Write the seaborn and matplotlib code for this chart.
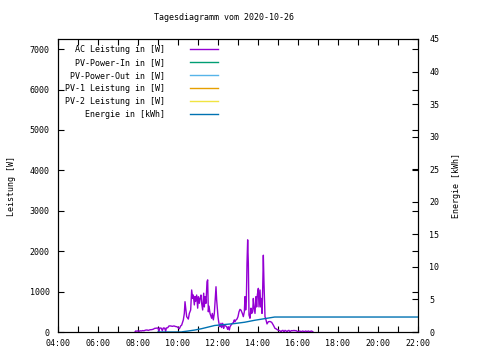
import matplotlib
matplotlib.use("Agg")
import matplotlib.pyplot as plt
from matplotlib.lines import Line2D
import seaborn as sns

# ---- data ----
ac_times = ["07:51","07:53","07:57","08:00","08:03","08:06","08:10","08:14","08:18","08:22",
            "08:27","08:31","08:36","08:42","08:46","08:50","08:54","09:00","09:03","09:05",
            "09:10","09:13","09:16","09:20","09:23","09:25","09:29","09:33","09:38","09:43",
            "09:48","09:53","09:57","10:01","10:04","10:08","10:11","10:16","10:19","10:21",
            "10:24","10:26","10:31","10:34","10:38","10:41","10:44","10:46","10:49","10:51",
            "10:53","10:56","10:59","11:01","11:04","11:06","11:09","11:11","11:14","11:17",
            "11:19","11:21","11:24","11:27","11:29","11:31","11:33","11:36","11:41","11:43",
            "11:46","11:49","11:51","11:54","11:56","11:58","12:00","12:02","12:04","12:06",
            "12:09","12:11","12:14","12:17","12:19","12:23","12:26","12:29","12:31","12:34",
            "12:36","12:39","12:43","12:46","12:49","12:51","12:54","12:57","13:00","13:03",
            "13:06","13:09","13:11","13:13","13:16","13:19","13:21","13:23","13:25","13:27",
            "13:29","13:31","13:33","13:36","13:39","13:41","13:44","13:46","13:48","13:51",
            "13:54","13:56","13:58","14:01","14:03","14:06","14:08","14:10","14:12","14:14",
            "14:16","14:18","14:21","14:24","14:27","14:31","14:36","14:41","14:46","14:51",
            "14:54","14:59","15:03","15:06","15:09","15:12","15:15","15:18","15:21","15:24",
            "15:27","15:30","15:33","15:36","15:39","15:42","15:45","15:48","15:51","15:54",
            "15:57","16:00","16:03","16:06","16:09","16:12","16:15","16:18","16:21","16:24",
            "16:27","16:30","16:33","16:36","16:39","16:42","16:45"]
ac_watts = [0, 25, 20, 30, 15, 30, 25, 35, 30, 45,
            50, 40, 55, 60, 70, 90, 95, 100, 10, 100,
            95, 30, 100, 95, 15, 100, 105, 150, 150, 140,
            150, 135, 130, 100, 80, 150, 170, 300, 460, 750,
            520, 380, 320, 460, 545, 1040, 830, 915, 670, 875,
            760, 915, 590, 875, 710, 830, 915, 710, 545, 960,
            620, 875, 710, 1245, 1290, 500, 640, 460, 340, 460,
            300, 460, 710, 1120, 790, 590, 380, 255, 170, 130,
            215, 110, 215, 90, 170, 150, 130, 65, 130, 50,
            130, 170, 215, 230, 300, 255, 300, 320, 380, 500,
            560, 540, 500, 460, 380, 500, 875, 545, 750, 1700,
            2280, 1700, 420, 340, 590, 460, 500, 830, 620, 460,
            875, 620, 915, 1080, 620, 1040, 620, 830, 460, 1040,
            1900, 1200, 380, 300, 200, 255, 260, 240, 170, 90,
            80, 50, 40, 30, 0, 35, 40, 0, 40, 30,
            0, 35, 40, 0, 30, 35, 30, 40, 30, 35,
            20, 0, 20, 25, 0, 20, 25, 0, 20, 25,
            0, 25, 20, 0, 25, 20, 0]

energy_times = ["09:00","10:10","10:15","10:30","10:50","11:10","11:30","11:50",
                "12:20","12:50","13:20","13:50","14:20","14:50","22:00"]
energy_kwh = [0.0, 0.0, 0.05, 0.15, 0.3, 0.5, 0.75, 1.0,
              1.15, 1.3, 1.5, 1.8, 2.05, 2.3, 2.3]

pv_in_watts = []
pv_out_watts = []
pv1_watts = []
pv2_watts = []

series_labels = ["AC Leistung in [W]", "PV-Power-In in [W]", "PV-Power-Out in [W]",
                 "PV-1 Leistung in [W]", "PV-2 Leistung in [W]", "Energie in [kWh]"]
series_colors = ["#9400d3", "#009e73", "#56b4e9", "#e69f00", "#f0e442", "#0072b2"]

x_ticks = [4, 6, 8, 10, 12, 14, 16, 18, 20, 22]
x_tick_labels = ["04:00", "06:00", "08:00", "10:00", "12:00", "14:00",
                 "16:00", "18:00", "20:00", "22:00"]
y_ticks = [0, 1000, 2000, 3000, 4000, 5000, 6000, 7000]
y2_ticks = [0, 5, 10, 15, 20, 25, 30, 35, 40, 45]

title = "Tagesdiagramm vom 2020-10-26"


def to_hours(t):
    h, m = t.split(":")
    return int(h) + int(m) / 60.0


plt.rcParams['font.family'] = ['DejaVu Sans Mono']
plt.rcParams['font.size'] = 6

fig = plt.figure(figsize=(4.8, 3.6), dpi=100)
fig.patch.set_facecolor("white")
ax = fig.add_axes([58 / 480, 28 / 360, 360 / 480, 293 / 360])
ax2 = ax.twinx()

sns.lineplot(x=[to_hours(t) for t in ac_times], y=ac_watts, ax=ax,
             color=series_colors[0], lw=1.0, estimator=None, legend=False)
sns.lineplot(x=[to_hours(t) for t in energy_times], y=energy_kwh, ax=ax2,
             color=series_colors[5], lw=1.0, estimator=None, legend=False)

ax.set_xlim(4, 22)
ax.set_ylim(0, 7250)
ax2.set_ylim(0, 45)

ax.set_xticks(x_ticks)
ax.set_xticklabels(x_tick_labels)
ax.set_xticks(list(range(5, 22, 2)), minor=True)
ax.set_yticks(y_ticks)
ax.set_yticklabels([str(v) for v in y_ticks])
ax2.set_yticks(y2_ticks)
ax2.set_yticklabels([str(v) for v in y2_ticks])

ax.tick_params(axis='x', which='both', direction='in', length=4, width=0.8,
               top=True, bottom=True, pad=5)
ax.tick_params(axis='y', which='both', direction='in', length=4, width=0.8,
               left=True, right=True, pad=6)
ax2.tick_params(axis='y', direction='in', length=4, width=0.8, right=True, left=False, pad=8)

for a in (ax, ax2):
    for s in a.spines.values():
        s.set_linewidth(0.8)
        s.set_color("black")
ax.grid(False)
ax2.grid(False)

ax.set_xlabel("")
ax.set_ylabel("Leistung [W]", labelpad=10)
ax2.set_ylabel("Energie [kWh]", labelpad=9)

fig.text(224 / 480, 1 - 18 / 360, title, ha="center", va="center")

handles = [Line2D([], [], color=c, lw=1.0) for c in series_colors]
width = max(len(s) for s in series_labels)
padded = [s.rjust(width) for s in series_labels]
leg = ax2.legend(handles, padded, loc="upper left",
                 bbox_to_anchor=((65 - 58) / 360, (332 - 45) / 293),
                 frameon=False, markerfirst=False, handlelength=3.4,
                 handletextpad=3.0, labelspacing=0.47, borderpad=0,
                 borderaxespad=0)

fig.savefig("out.png", dpi=100, facecolor="white")
